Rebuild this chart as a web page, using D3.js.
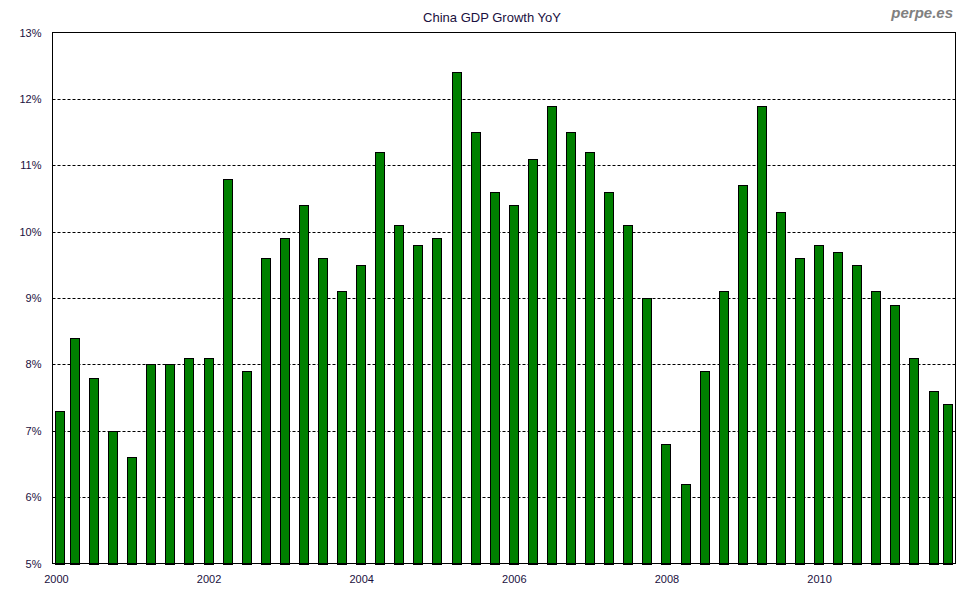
<!DOCTYPE html>
<html><head><meta charset="utf-8">
<script src="https://cdn.jsdelivr.net/npm/d3@7"></script>
<style>body{margin:0;background:#fff;}svg{display:block;font-family:Arial,"Liberation Sans",sans-serif;}</style>
</head><body>
<svg id="c" width="980" height="600"></svg>
<script>
const quarters = ["2000Q1","2000Q2","2000Q3","2000Q4","2001Q1","2001Q2","2001Q3","2001Q4","2002Q1","2002Q2","2002Q3","2002Q4","2003Q1","2003Q2","2003Q3","2003Q4","2004Q1","2004Q2","2004Q3","2004Q4","2005Q1","2005Q2","2005Q3","2005Q4","2006Q1","2006Q2","2006Q3","2006Q4","2007Q1","2007Q2","2007Q3","2007Q4","2008Q1","2008Q2","2008Q3","2008Q4","2009Q1","2009Q2","2009Q3","2009Q4","2010Q1","2010Q2","2010Q3","2010Q4","2011Q1","2011Q2","2011Q3","2011Q4"];
const growth = [7.3,8.4,7.8,7.0,6.6,8.0,8.0,8.1,8.1,10.8,7.9,9.6,9.9,10.4,9.6,9.1,9.5,11.2,10.1,9.8,9.9,12.4,11.5,10.6,10.4,11.1,11.9,11.5,11.2,10.6,10.1,9.0,6.8,6.2,7.9,9.1,10.7,11.9,10.3,9.6,9.8,9.7,9.5,9.1,8.9,8.1,7.6,7.4];
const yTicks = [5,6,7,8,9,10,11,12,13];
const xTickLabels = ["2000","2002","2004","2006","2008","2010"];
const title = "China GDP Growth YoY";
const watermark = "perpe.es";

const svg = d3.select("#c");
const L = 52.5, R = 955.5, T = 32.5, B = 563.5;
const x = d3.scaleLinear().domain([0, quarters.length - 1]).range([55.9, 55.9 + 19.08 * (quarters.length - 1)]);
const y = d3.scaleLinear().domain([5, 13]).range([B, T]);
const bw = 10;

// gridlines
svg.append("g").selectAll("line").data(yTicks.filter(v => v > 5 && v < 13)).join("line")
  .attr("x1", L).attr("x2", R)
  .attr("y1", d => Math.round(y(d)) + 0.5).attr("y2", d => Math.round(y(d)) + 0.5)
  .attr("stroke", "#000").attr("stroke-width", 1).attr("stroke-dasharray", "3,2");

// bars
svg.append("g").selectAll("rect").data(growth).join("rect")
  .attr("x", (d, i) => {
    let x0 = x(i) - bw / 2;
    x0 = Math.max(x0, L + 2.5);
    x0 = Math.min(x0, R - 3 - bw);
    return Math.round(x0) + 0.5;
  })
  .attr("width", bw - 1)
  .attr("y", d => Math.round(y(d)) + 0.5)
  .attr("height", d => Math.round(B) - Math.round(y(d)))
  .attr("fill", "#008000").attr("stroke", "#000").attr("stroke-width", 1);

// frame
svg.append("rect").attr("x", L).attr("y", T).attr("width", R - L).attr("height", B - T)
  .attr("fill", "none").attr("stroke", "#000").attr("stroke-width", 1);

// y axis labels
const yAxis = d3.axisLeft(y).tickValues(yTicks).tickSize(0).tickPadding(11).tickFormat(d => d + "%");
const gy = svg.append("g").attr("transform", `translate(${L},0)`).call(yAxis);
gy.select(".domain").remove();
gy.selectAll("text").attr("font-size", "11px").attr("font-family", "Arial, 'Liberation Sans', sans-serif").attr("fill", "#1a1040");

// x axis labels
const xAxis = d3.axisBottom(x).tickValues(xTickLabels.map((_, k) => k * 8)).tickSize(0).tickPadding(12)
  .tickFormat((d, k) => xTickLabels[k]);
const gx = svg.append("g").attr("transform", `translate(0,${B})`).call(xAxis);
gx.select(".domain").remove();
gx.selectAll("text").attr("font-size", "11px").attr("font-family", "Arial, 'Liberation Sans', sans-serif").attr("fill", "#1a1040");

// title
svg.append("text").attr("x", 492).attr("y", 22).attr("text-anchor", "middle")
  .attr("font-size", "13px").attr("fill", "#1a1040").text(title);

// watermark
svg.append("text").attr("x", 953).attr("y", 18).attr("text-anchor", "end")
  .attr("font-size", "15px").attr("font-weight", "bold").attr("font-style", "italic")
  .attr("fill", "#808080").text(watermark);
</script>
</body></html>
